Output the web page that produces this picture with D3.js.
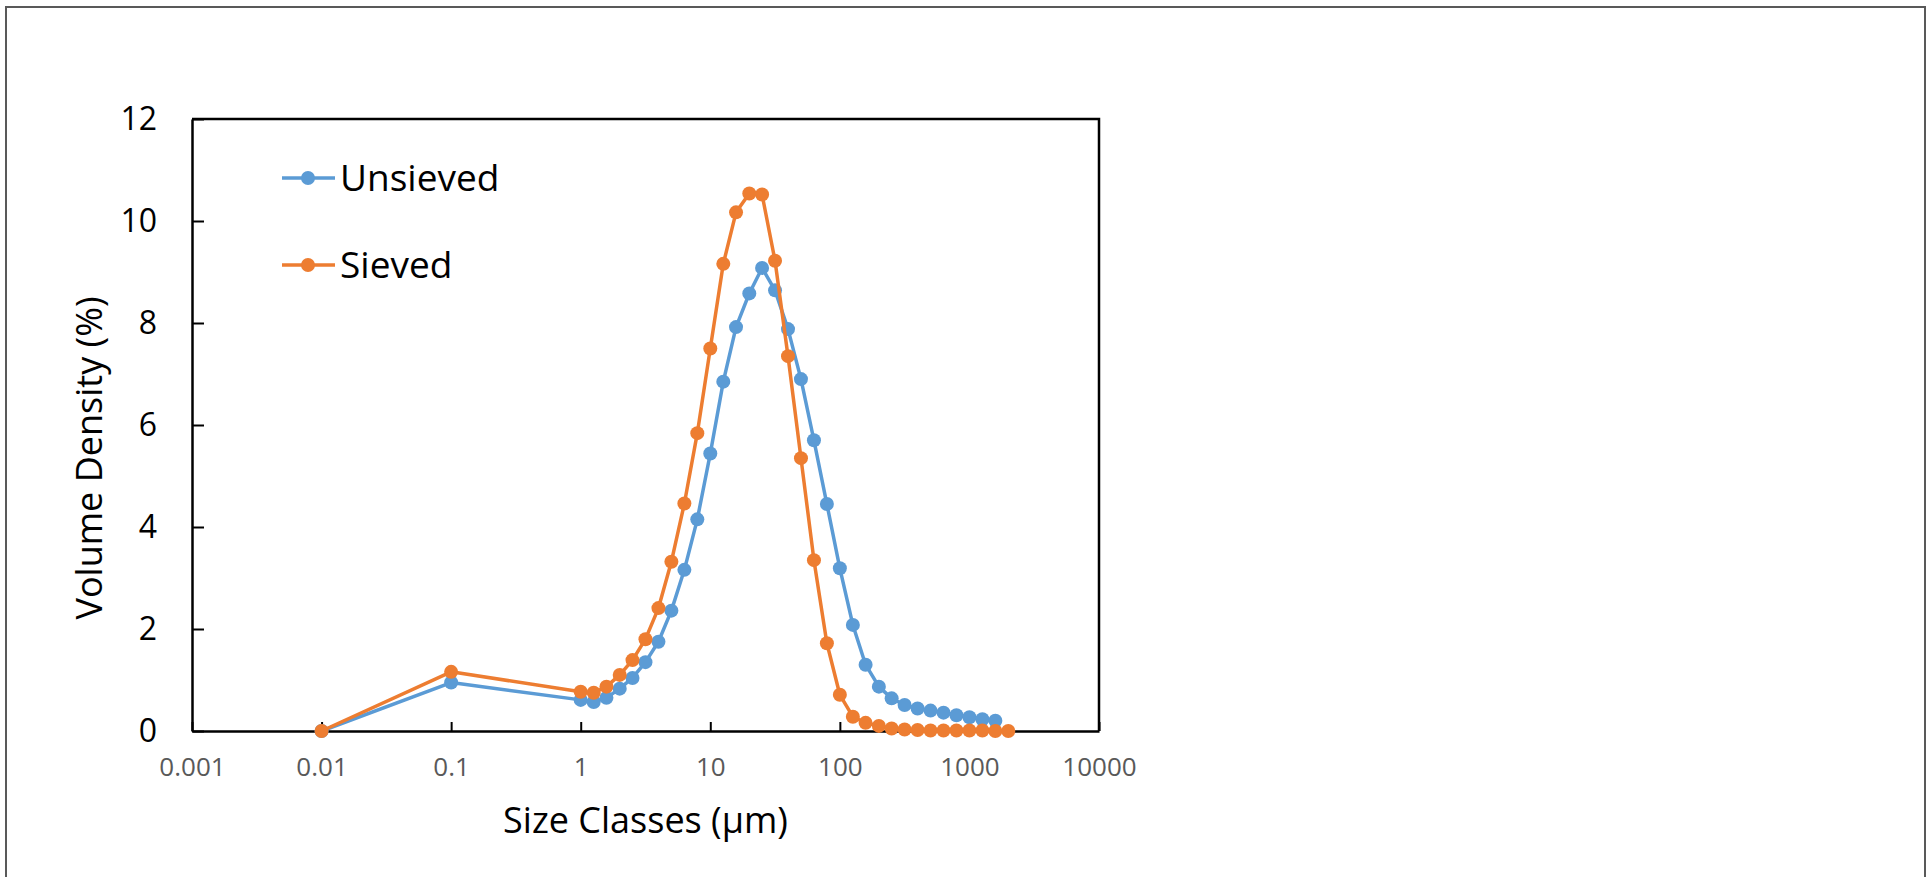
<!DOCTYPE html>
<html>
<head>
<meta charset="utf-8">
<script src="https://cdn.jsdelivr.net/npm/d3@7"></script>
<style>
  html, body { margin: 0; padding: 0; background: #fff; }
  svg { display: block; }
  text { font-family: "Open Sans", Lato, sans-serif; }
</style>
</head>
<body>
<svg id="chart" width="1931" height="877"></svg>
<script>
// Particle size classes (µm)
const sizeClasses = [
  0.01, 0.1, 1, 1.26, 1.58, 2, 2.51, 3.16, 3.98, 5.01, 6.31, 7.94,
  10, 12.6, 15.8, 20, 25.1, 31.6, 39.8, 50.1, 63.1, 79.4,
  100, 126, 158, 200, 251, 316, 398, 501, 631, 794,
  1000, 1259, 1585, 1995
];

// Volume density (%) for the unsieved sample (last class empty)
const unsieved = [
  0, 0.95, 0.61, 0.57, 0.65, 0.83, 1.04, 1.35, 1.75, 2.36, 3.16, 4.15,
  5.44, 6.85, 7.92, 8.58, 9.08, 8.64, 7.88, 6.9, 5.7, 4.45,
  3.19, 2.08, 1.3, 0.87, 0.64, 0.51, 0.44, 0.4, 0.36, 0.31,
  0.27, 0.23, 0.2, null
];

// Volume density (%) for the sieved sample
const sieved = [
  0, 1.16, 0.77, 0.75, 0.87, 1.1, 1.39, 1.8, 2.41, 3.32, 4.46, 5.84,
  7.5, 9.16, 10.17, 10.54, 10.52, 9.22, 7.35, 5.35, 3.35, 1.72,
  0.71, 0.28, 0.16, 0.1, 0.05, 0.03, 0.02, 0.01, 0.01, 0.01,
  0.01, 0.01, 0, 0
];

const xTickValues = [0.001, 0.01, 0.1, 1, 10, 100, 1000, 10000];
const xTickLabels = ["0.001", "0.01", "0.1", "1", "10", "100", "1000", "10000"];
const yTickValues = [0, 2, 4, 6, 8, 10, 12];

const seriesNames = ["Unsieved", "Sieved"];
const seriesColors = ["#5B9BD5", "#ED7D31"];

const svg = d3.select("#chart");

// outer chart frame
svg.append("rect")
  .attr("x", 6).attr("y", 7)
  .attr("width", 1919).attr("height", 880)
  .attr("fill", "none")
  .attr("stroke", "#595959")
  .attr("stroke-width", 2);

const plot = { left: 192, top: 119, right: 1099, bottom: 731 };

const x = d3.scaleLog()
  .domain([0.001, 10000])
  .range([plot.left, plot.right]);

const y = d3.scaleLinear()
  .domain([0, 12])
  .range([plot.bottom, plot.top]);

// x axis: ticks pointing into the plot
const xAxis = svg.append("g")
  .attr("transform", `translate(0,${plot.bottom})`)
  .call(d3.axisBottom(x)
    .tickValues(xTickValues)
    .tickFormat((d, i) => xTickLabels[i])
    .tickSizeInner(-9)
    .tickSizeOuter(0)
    .tickPadding(27));
xAxis.select(".domain").attr("stroke", "#000").attr("stroke-width", 2.5);
xAxis.selectAll(".tick line").attr("stroke", "#000").attr("stroke-width", 2);
xAxis.selectAll(".tick text")
  .attr("fill", "#595959")
  .attr("font-size", 26)
  .attr("font-family", "'Open Sans', sans-serif");

// y axis: ticks pointing into the plot
const yAxis = svg.append("g")
  .attr("transform", `translate(${plot.left},0)`)
  .call(d3.axisLeft(y)
    .tickValues(yTickValues)
    .tickFormat(d3.format("d"))
    .tickSizeInner(-12)
    .tickSizeOuter(0)
    .tickPadding(35));
yAxis.select(".domain").attr("stroke", "#000").attr("stroke-width", 2.5);
yAxis.selectAll(".tick line").attr("stroke", "#000").attr("stroke-width", 2);
yAxis.selectAll(".tick text")
  .attr("fill", "#000")
  .attr("font-size", 32)
  .attr("font-family", "Lato, sans-serif");

// top and right border of the plot area
svg.append("path")
  .attr("d", `M${plot.left},${plot.top}H${plot.right}V${plot.bottom}`)
  .attr("fill", "none")
  .attr("stroke", "#000")
  .attr("stroke-width", 2.5);

// axis titles
svg.append("text")
  .attr("x", (plot.left + plot.right) / 2)
  .attr("y", 833)
  .attr("text-anchor", "middle")
  .attr("font-size", 36)
  .attr("fill", "#000")
  .text("Size Classes (µm)");

svg.append("text")
  .attr("transform", "translate(102,458) rotate(-90)")
  .attr("text-anchor", "middle")
  .attr("font-size", 36)
  .attr("fill", "#000")
  .text("Volume Density (%)");

// series lines and markers
const allSeries = [unsieved, sieved];
allSeries.forEach((values, s) => {
  const pts = sizeClasses
    .map((c, i) => ({ c, v: values[i] }))
    .filter(p => p.v !== null);

  const line = d3.line()
    .x(p => x(p.c))
    .y(p => y(p.v));

  const g = svg.append("g");
  g.append("path")
    .datum(pts)
    .attr("d", line)
    .attr("fill", "none")
    .attr("stroke", seriesColors[s])
    .attr("stroke-width", 3.5)
    .attr("stroke-linejoin", "round");

  g.selectAll("circle")
    .data(pts)
    .join("circle")
    .attr("cx", p => x(p.c))
    .attr("cy", p => y(p.v))
    .attr("r", 7)
    .attr("fill", seriesColors[s]);
});

// legend
const legendY = [178, 265];
seriesNames.forEach((name, i) => {
  const g = svg.append("g").attr("transform", `translate(0,${legendY[i]})`);
  g.append("line")
    .attr("x1", 282).attr("x2", 335)
    .attr("y1", 0).attr("y2", 0)
    .attr("stroke", seriesColors[i])
    .attr("stroke-width", 3.5);
  g.append("circle")
    .attr("cx", 308).attr("cy", 0).attr("r", 7)
    .attr("fill", seriesColors[i]);
  g.append("text")
    .attr("x", 340).attr("y", 13)
    .attr("font-size", 37)
    .attr("fill", "#000")
    .text(name);
});
</script>
</body>
</html>
